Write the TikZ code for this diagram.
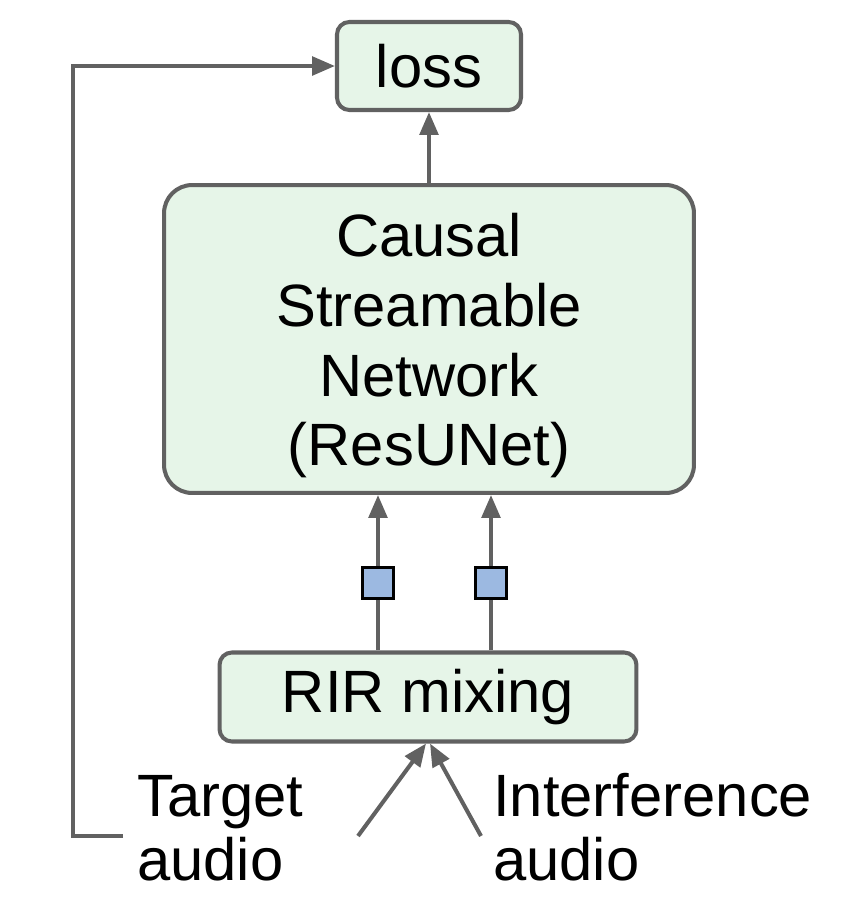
\documentclass[tikz,border=0pt]{standalone}
\usepackage{fontspec}
\setmainfont{Liberation Sans}
\usetikzlibrary{positioning, arrows.meta}

\definecolor{linegray}{HTML}{616161}
\definecolor{boxgreen}{HTML}{E6F5E8}
\definecolor{tapblue}{HTML}{9CB9E1}

\tikzset{
    block/.style={draw=linegray, fill=boxgreen, line width=2.3pt, rounded corners=7pt, align=center, inner sep=0pt},
    flow/.style={draw=linegray, line width=2.3pt, -{Triangle[length=13pt, width=10.5pt]}},
    tap/.style={draw=black, fill=tapblue, line width=1.3pt, minimum size=0.62cm, inner sep=0pt},
    label/.style={align=left, inner sep=0pt, anchor=base west}
}

\begin{document}
\begin{tikzpicture}[x=0.02cm, y=-0.02cm, font=\fontsize{34}{36}\selectfont]
    \useasboundingbox (0,0) rectangle (868,904);

    \node[block, minimum width=3.68cm, minimum height=1.76cm] (loss) at (429,66) {loss};
    \node[block, minimum width=10.6cm, minimum height=6.16cm, rounded corners=16pt,
          font=\fontsize{34}{39.7}\selectfont] (net) at (429,339)
          {\rule{0pt}{0.3cm}\\[-0.56cm]Causal\\Streamable\\Network\\(ResUNet)};
    \node[block, minimum width=8.34cm, minimum height=1.78cm] (rir) at (428,697) {RIR mixing};

    \node[label] (tgt) at (137,880) {Target\\audio};
    \node[label] (intf) at (493,880) {Interference\\audio};

    % feature paths into the network
    \coordinate (p1) at (378,583);
    \coordinate (p2) at (491,583);
    \draw[flow] (p1 |- rir.north) -- (p1 |- net.south);
    \draw[flow] (p2 |- rir.north) -- (p2 |- net.south);
    \node[tap] (sq1) at (p1) {};
    \node[tap] (sq2) at (p2) {};

    \draw[flow] (net) -- (loss);

    % inputs to the mixer
    \coordinate (tin) at (358,836);
    \coordinate (iin) at (481,836);
    \draw[flow] (tin) -- ([xshift=-0.04cm]rir.south);
    \draw[flow] (iin) -- ([xshift=0.04cm]rir.south);

    % clean target goes straight to the loss
    \coordinate (tend) at (123,836);
    \draw[flow] (tend) -- (73,836) |- (loss.west);
\end{tikzpicture}
\end{document}
